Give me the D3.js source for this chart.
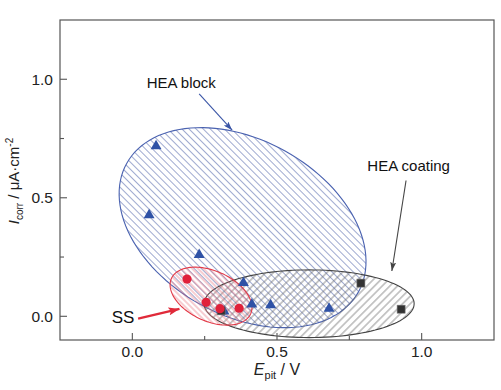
<!DOCTYPE html>
<html><head><meta charset="utf-8">
<script src="https://cdn.jsdelivr.net/npm/d3@7"></script>
<style>body{margin:0;background:#fff}svg{display:block}text{font-family:"Liberation Sans",Arial,sans-serif}</style>
</head><body><svg id="c" width="501" height="390"></svg>
<script>
// ---- data ----
const blockX = [0.082, 0.058, 0.231, 0.384, 0.413, 0.478, 0.680, 0.317];
const blockY = [0.718, 0.427, 0.259, 0.141, 0.050, 0.047, 0.033, 0.021];
const ssX = [0.189, 0.255, 0.303, 0.369];
const ssY = [0.157, 0.059, 0.032, 0.034];
const coatX = [0.790, 0.929, 0.307];
const coatY = [0.140, 0.030, 0.023];
const xMajor = [0.0, 0.5, 1.0];
const xMinor = [0.25, 0.75];
const yMajor = [0.0, 0.5, 1.0];
const yMinor = [0.25, 0.75];
const xTickLabels = ["0.0", "0.5", "1.0"];
const yTickLabels = ["0.0", "0.5", "1.0"];
// ellipse regions: centre (data), semi-axes in x-data units, tilt (deg)
const ellipseNames = ["block", "coating", "ss"];
const ellipseCx = [0.381, 0.611, 0.272];
const ellipseCy = [0.374, 0.053, 0.085];
const ellipseA = [0.458, 0.363, 0.150];
const ellipseB = [0.303, 0.117, 0.087];
const ellipseTilt = [29, 0, 24];
// annotations (data coords)
const labelText = ["HEA block", "HEA coating", "SS"];
const labelX = [0.169, 0.955, -0.032];
const labelY = [0.963, 0.615, -0.030];
const arrowX0 = [0.231, 0.946, 0.020];
const arrowY0 = [0.938, 0.573, -0.010];
const arrowX1 = [0.345, 0.897, 0.163];
const arrowY1 = [0.785, 0.191, 0.031];

// ---- layout ----
const svg = d3.select("#c");
const L = 60, R = 494, T = 20, B = 340;
const x = d3.scaleLinear().domain([-0.25, 1.25]).range([L, R]);
const y = d3.scaleLinear().domain([-0.1, 1.25]).range([B, T]);
const kx = x(1) - x(0);

const defs = svg.append("defs");
function hatch(id, color, w, angle, sw) {
  const p = defs.append("pattern").attr("id", id).attr("patternUnits", "userSpaceOnUse")
    .attr("width", w).attr("height", w).attr("patternTransform", `rotate(${angle})`);
  p.append("line").attr("x1", w / 2).attr("y1", -1).attr("x2", w / 2).attr("y2", w + 1)
    .attr("stroke", color).attr("stroke-width", sw);
}
hatch("hBlock", "#7585bb", 5.0, -45, 0.7);
hatch("hCoat", "#666", 5.4, 45, 0.7);
hatch("hSS", "#e8707a", 4.0, -45, 0.7);
const fills = ["url(#hBlock)", "url(#hCoat)", "url(#hSS)"];
const strokes = ["#4a62b0", "#444", "#e23a48"];

function ellipsePts(i) {
  const cx = x(ellipseCx[i]), cy = y(ellipseCy[i]);
  const a = ellipseA[i] * kx, b = ellipseB[i] * kx;
  const th = ellipseTilt[i] * Math.PI / 180;
  return d3.range(0, 361, 3).map(d => {
    const t = d * Math.PI / 180, ex = a * Math.cos(t), ey = b * Math.sin(t);
    return [cx + ex * Math.cos(th) - ey * Math.sin(th), cy + ex * Math.sin(th) + ey * Math.cos(th)];
  });
}
const line = d3.line().curve(d3.curveLinearClosed);
ellipseNames.forEach((n, i) => {
  svg.append("path").attr("d", line(ellipsePts(i))).attr("fill", fills[i])
    .attr("stroke", strokes[i]).attr("stroke-width", 1.1);
});

// frame and ticks
svg.append("rect").attr("x", L).attr("y", T).attr("width", R - L).attr("height", B - T)
  .attr("fill", "none").attr("stroke", "#555").attr("stroke-width", 1.2);
const ax = svg.append("g").attr("stroke", "#555").attr("stroke-width", 1.1);
xMajor.forEach(v => ax.append("line").attr("x1", x(v)).attr("x2", x(v)).attr("y1", B).attr("y2", B - 7));
xMinor.forEach(v => ax.append("line").attr("x1", x(v)).attr("x2", x(v)).attr("y1", B).attr("y2", B - 4));
yMajor.forEach(v => ax.append("line").attr("y1", y(v)).attr("y2", y(v)).attr("x1", L).attr("x2", L + 7));
yMinor.forEach(v => ax.append("line").attr("y1", y(v)).attr("y2", y(v)).attr("x1", L).attr("x2", L + 4));
xMajor.forEach((v, i) => svg.append("text").attr("x", x(v)).attr("y", 357).attr("text-anchor", "middle")
  .attr("font-size", 15.5).attr("fill", "#222").text(xTickLabels[i]));
yMajor.forEach((v, i) => svg.append("text").attr("x", 53).attr("y", y(v) + 5.5).attr("text-anchor", "end")
  .attr("font-size", 15.5).attr("fill", "#222").text(yTickLabels[i]));

// axis titles
const xt = svg.append("text").attr("x", 277).attr("y", 375).attr("text-anchor", "middle").attr("font-size", 16).attr("fill", "#222");
xt.append("tspan").attr("font-style", "italic").text("E");
xt.append("tspan").attr("font-size", 11).attr("dy", 4).text("pit");
xt.append("tspan").attr("dy", -4).text(" / V");
const yt = svg.append("text").attr("transform", "translate(19,181) rotate(-90)").attr("text-anchor", "middle")
  .attr("font-size", 15).attr("fill", "#222");
yt.append("tspan").attr("font-style", "italic").text("I");
yt.append("tspan").attr("font-size", 10).attr("dy", 4).text("corr");
yt.append("tspan").attr("dy", -4).text(" / μA·cm");
yt.append("tspan").attr("font-size", 10).attr("dy", -6).text("-2");

// markers
const tri = d3.symbol().type(d3.symbolTriangle).size(52);
blockX.forEach((v, i) => svg.append("path").attr("d", tri()).attr("transform", `translate(${x(v)},${y(blockY[i])})`).attr("fill", "#2f52a6"));
coatX.forEach((v, i) => svg.append("rect").attr("x", x(v) - 4).attr("y", y(coatY[i]) - 4).attr("width", 8).attr("height", 8)
  .attr("fill", "#333").attr("stroke", "#777").attr("stroke-width", 0.6));
ssX.forEach((v, i) => svg.append("circle").attr("cx", x(v)).attr("cy", y(ssY[i])).attr("r", 4.6).attr("fill", "#e0203a"));

// arrows
const arrowColors = ["#3a55a6", "#444", "#e02a3a"];
const arrowW = [1.1, 1.1, 2.4];
function head(id, color, len, wid) {
  defs.append("marker").attr("id", id).attr("viewBox", `0 0 ${len} ${wid}`).attr("refX", len).attr("refY", wid / 2)
    .attr("markerWidth", len).attr("markerHeight", wid).attr("markerUnits", "userSpaceOnUse").attr("orient", "auto")
    .append("path").attr("d", `M0,0L${len},${wid / 2}L0,${wid}L${len * 0.2},${wid / 2}Z`).attr("fill", color);
}
head("a0", arrowColors[0], 9, 6); head("a1", arrowColors[1], 9, 6); head("a2", arrowColors[2], 11, 8);
labelText.forEach((t, i) => {
  svg.append("line").attr("x1", x(arrowX0[i])).attr("y1", y(arrowY0[i])).attr("x2", x(arrowX1[i])).attr("y2", y(arrowY1[i]))
    .attr("stroke", arrowColors[i]).attr("stroke-width", arrowW[i]).attr("marker-end", `url(#a${i})`);
  svg.append("text").attr("x", x(labelX[i])).attr("y", y(labelY[i])).attr("text-anchor", "middle")
    .attr("font-size", i == 2 ? 17 : 15).attr("fill", "#111").text(t);
});
</script></body></html>
